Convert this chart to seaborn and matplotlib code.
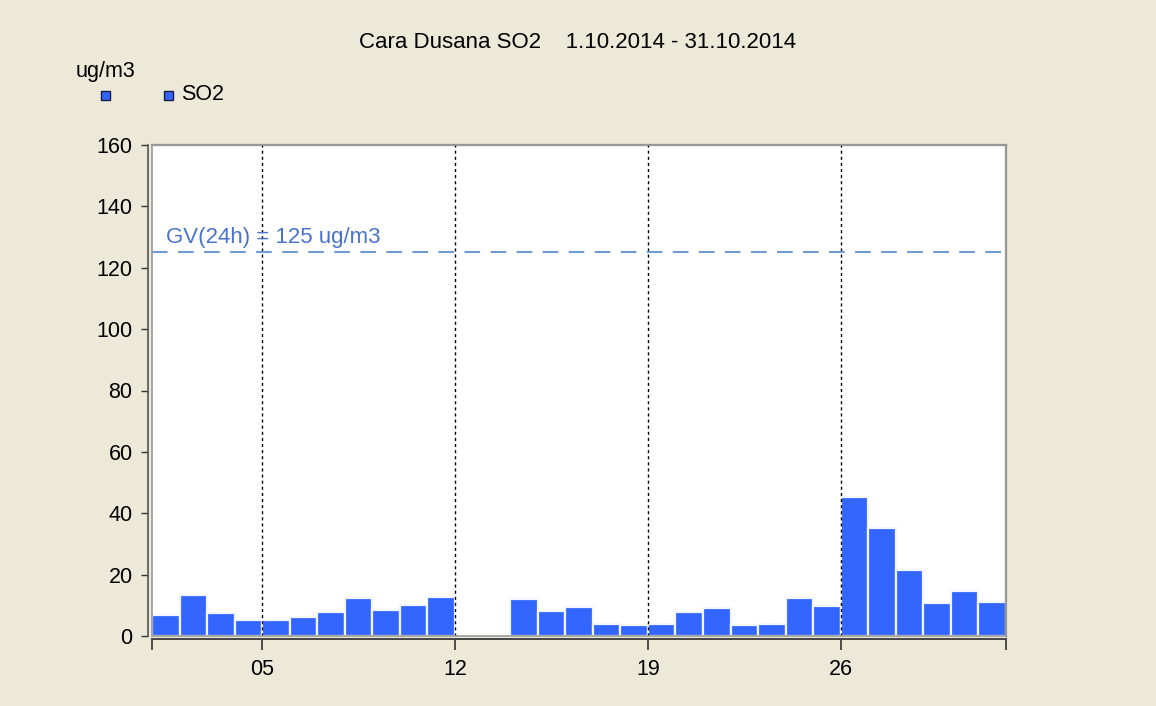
# SO2 daily means, Cara Dusana, October 2014
import pandas as pd
import matplotlib.pyplot as plt
import seaborn as sns
from matplotlib.patches import Rectangle

days = [1, 2, 3, 4, 5, 6, 7, 8, 9, 10, 11,
        14, 15, 16, 17, 18, 19, 20, 21, 22, 23, 24, 25,
        26, 27, 28, 29, 30, 31]
so2 = [6.9, 13.5, 7.4, 5.2, 5.2, 6.1, 7.7, 12.3, 8.6, 10.2, 12.6,
       11.9, 8.0, 9.3, 4.0, 3.6, 4.0, 7.7, 9.0, 3.6, 4.0, 12.3, 9.8,
       45.4, 35.1, 21.6, 10.6, 14.7, 11.0]
all_days = list(range(1, 32))
tick_days = ["05", "12", "19", "26"]
limit_gv = 125

bg = "#ECE9D8"
bar_col = "#3366FF"

data = pd.DataFrame({"day": days, "so2": so2})

sns.set_theme(style="white")
plt.rcParams["font.family"] = ["Liberation Sans", "DejaVu Sans"]
plt.rcParams["text.color"] = "black"

fig = plt.figure(figsize=(11.56, 7.06), dpi=100, facecolor=bg)
ax = fig.add_axes([152 / 1156, 1 - 636 / 706, 854 / 1156, 491 / 706])
ax.set_facecolor("white")

sns.barplot(data=data, x="day", y="so2", order=all_days, color=bar_col,
            saturation=1, width=1, edgecolor="#F4F6FF", linewidth=1.6, ax=ax)

# grid lines at the day ticks
tick_pos = [all_days.index(int(d)) - 0.5 for d in tick_days]
for p in tick_pos:
    ax.axvline(p, color="black", lw=1, ls=(0, (2.2, 2.2)), zorder=3)

# limit value
ax.axhline(limit_gv, color="#6F9AD2", lw=1.5, ls=(0, (7.5, 5)), zorder=3)
ax.text(0.0, limit_gv + 1.3, "GV(24h) = 125 ug/m3", color="#4A74C9",
        fontsize=16, va="bottom", ha="left")

ax.set_xlim(-0.5, 30.5)
ax.set_ylim(0, 160)
ax.set_yticks(range(0, 161, 20))
ax.set_xticks([-0.5] + tick_pos + [30.5])
ax.set_xticklabels([""] + tick_days + [""])
ax.set_xlabel("")
ax.set_ylabel("")
ax.tick_params(axis="y", length=5, width=1, color="#333333", pad=6,
               labelsize=15.5, labelcolor="black", left=True)
ax.tick_params(axis="x", length=8, width=1.2, color="#333333", pad=6,
               labelsize=15.5, labelcolor="black", bottom=True)

for s in ["top", "right"]:
    ax.spines[s].set_color("#8C8C8C")
    ax.spines[s].set_linewidth(1.6)
ax.spines["left"].set_position(("outward", 3))
ax.spines["bottom"].set_position(("outward", 2.5))
ax.spines["left"].set_color("#555555")
ax.spines["bottom"].set_color("#444444")
ax.spines["left"].set_linewidth(1.2)
ax.spines["bottom"].set_linewidth(1.4)
ax.add_patch(Rectangle((0, 0), 1, 1, transform=ax.transAxes, fill=False,
                       edgecolor="#9A9A9A", lw=1.2, clip_on=False, zorder=4))

fig.text(578 / 1156, 1 - 43 / 706, "Cara Dusana SO2    1.10.2014 - 31.10.2014",
         ha="center", va="center", fontsize=16)
fig.text(76 / 1156, 1 - 71 / 706, "ug/m3", ha="left", va="center", fontsize=15.5)

# legend squares
for cx in [105, 168]:
    fig.patches.append(Rectangle(((cx - 4.5) / 1156, 1 - 99.5 / 706), 9 / 1156, 9 / 706,
                                 transform=fig.transFigure, facecolor=bar_col,
                                 edgecolor="#1A1A40", lw=1))
fig.text(181 / 1156, 1 - 95 / 706, "SO2", ha="left", va="center", fontsize=15.5)

fig.savefig("out.png", dpi=100, facecolor=bg)
